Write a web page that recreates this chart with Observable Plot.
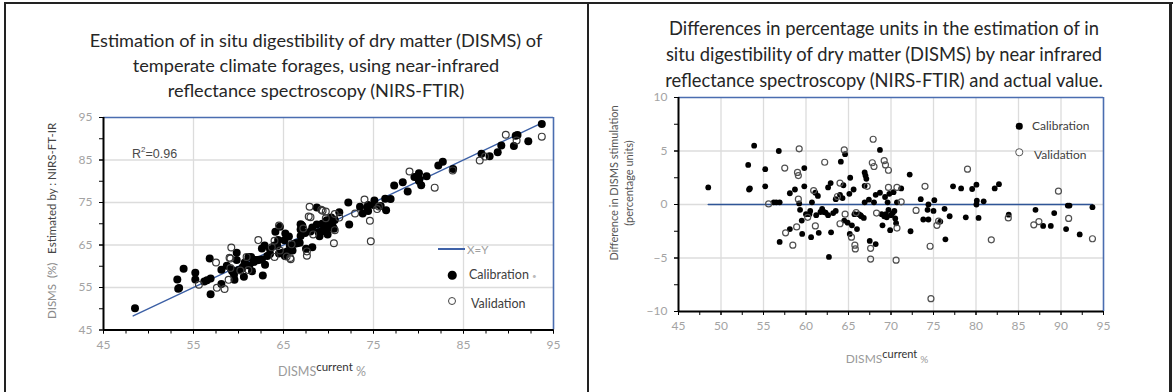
<!DOCTYPE html>
<html><head><meta charset="utf-8">
<script src="https://cdn.jsdelivr.net/npm/d3@7"></script>
<script src="https://cdn.jsdelivr.net/npm/@observablehq/plot@0.6"></script>
<style>
body{margin:0;background:#fff;}
#wrap{position:relative;width:1176px;height:392px;overflow:hidden;background:#fff;font-family:Lato,"Open Sans",sans-serif;}
.ttl{position:absolute;white-space:nowrap;color:#262626;transform:translate(-50%,-50%);font-size:17.5px;line-height:1;}
.bar{position:absolute;background:#222;}
.lab{position:absolute;white-space:nowrap;transform:translate(-50%,-50%);}
.leg{position:absolute;white-space:nowrap;color:#404040;font-size:12.5px;transform:translateY(-50%);}
.dot{position:absolute;border-radius:50%;transform:translate(-50%,-50%);box-sizing:border-box;}
.plot{position:absolute;top:0;}
</style></head>
<body>
<div id="wrap">
  <div class="bar" style="left:4px;top:2px;width:1169px;height:2px"></div>
  <div class="bar" style="left:4px;top:2px;width:2px;height:390px"></div>
  <div class="bar" style="left:587px;top:2px;width:2px;height:390px"></div>
  <div class="bar" style="left:1169px;top:2px;width:3px;height:390px"></div>

  <div id="leftPlot" class="plot" style="left:0"></div>
  <div id="rightPlot" class="plot" style="left:588px"></div>

  <div class="ttl lt" data-w="453" style="left:316px;top:40px">Estimation of in situ digestibility of dry matter (DISMS) of</div>
  <div class="ttl lt" style="left:316px;top:65px">temperate climate forages, using near-infrared</div>
  <div class="ttl lt" style="left:316px;top:90px">reflectance spectroscopy (NIRS-FTIR)</div>

  <div class="ttl rt" data-w="430" style="left:884px;top:28px">Differences in percentage units in the estimation of in</div>
  <div class="ttl rt" style="left:884px;top:54px">situ digestibility of dry matter (DISMS) by near infrared</div>
  <div class="ttl rt" style="left:884px;top:80px">reflectance spectroscopy (NIRS-FTIR) and actual value.</div>

  <div class="lab" style="left:51px;top:221px;transform:translate(-50%,-50%) rotate(-90deg);font-size:11.5px;color:#8a8a8a">DISMS&nbsp; (%)&nbsp;&nbsp; <span style="color:#444">Estimated by : NIRS-FT-IR</span></div>
  <div class="lab" style="left:322px;top:371px;font-size:12.5px;color:#9a9a9a">DISMS<span style="color:#333;font-size:11.5px;position:relative;top:-5px">current</span> %</div>
  <div class="lab" style="left:132px;top:153px;transform:translateY(-50%);font-family:'Liberation Sans',Arial,sans-serif;font-size:12.5px;color:#4a4a4a">R<sup style="font-size:8px">2</sup>=0.96</div>

  <div class="lab" style="left:621px;top:183px;transform:translate(-50%,-50%) rotate(-90deg);font-size:11px;color:#555;text-align:center;line-height:15px">Difference in DISMS stimulation<br>(percentage units)</div>
  <div class="lab" style="left:887px;top:358px;font-size:12px;color:#9a9a9a">DISMS<span style="color:#333;font-size:11px;position:relative;top:-5px">current</span> <span style="font-size:10px">%</span></div>

  <!-- left legend -->
  <div style="position:absolute;left:438px;top:248px;width:27px;height:2px;background:#3f62a8"></div>
  <div class="leg" style="left:467px;top:249px;color:#a0a0a0;font-size:11.5px">X=Y</div>
  <div class="dot" style="left:452px;top:275px;width:8.5px;height:8.5px;background:#000"></div>
  <div class="leg" style="left:469px;top:274px">Calibration <span style="color:#bbb;font-size:8px">•</span></div>
  <div class="dot" style="left:452px;top:301px;width:8px;height:8px;border:1.4px solid #444;background:#fff"></div>
  <div class="leg" style="left:471px;top:303px">Validation</div>

  <!-- right legend -->
  <div class="dot" style="left:1019px;top:126px;width:6.5px;height:6.5px;background:#000"></div>
  <div class="leg" style="left:1032px;top:125px;font-size:12px">Calibration</div>
  <div class="dot" style="left:1019px;top:152px;width:7.5px;height:7.5px;border:1.3px solid #555;background:#fff"></div>
  <div class="leg" style="left:1034px;top:154px;font-size:12px">Validation</div>
</div>
<script>
// ---- data: actual DISMS (%) and difference (estimated - actual, percentage units)
const calActual = [48.5,53.2,53.3,53.4,53.9,55.2,55.2,56.2,56.5,56.9,56.8,56.9,58.1,58.1,58.7,59.2,59.3,59.5,59.55,59.8,
  59.8,60.0,60.4,60.6,60.7,61.1,61.4,61.5,61.7,61.9,62.3,62.6,62.6,62.9,62.95,62.7,63.5,63.5,64.1,64.6,
  64.0,64.4,64.5,64.9,65.2,65.1,65.6,65.4,65.15,66.0,66.2,66.5,66.8,66.9,67.0,67.1,66.9,66.9,67.5,68.2,
  67.4,68.2,68.7,68.7,68.9,69.0,69.3,69.4,69.6,69.7,69.5,69.8,69.9,70.0,70.3,70.4,70.5,70.6,70.7,71.2,
  72.2,72.3,73.5,73.8,74.3,74.4,74.4,75.0,75.1,75.8,76.3,76.4,76.9,77.3,78.25,78.8,79.55,80.05,80.05,80.1,
  80.3,80.9,82.2,82.7,83.85,87.0,87.9,88.8,89.2,90.6,90.8,91.0,92.2,93.7,
  60.5,61.2,62.1,63.2,65.7,66.4,69.2,70.2,68.0,64.3];
const calDiff = [1.6,3.7,1.4,1.5,5.5,3.3,1.7,0.2,0.2,0.2,5.0,-3.5,-2.3,1.05,1.4,0.1,-0.5,-1.5,-2.75,3.4,
  1.7,-0.9,-0.9,-3.05,0.2,1.1,0.8,-2.65,-0.7,-0.4,-0.75,-1.0,1.6,2.0,-2.6,-4.9,-0.6,0.5,4.0,4.7,
  0.9,1.8,-1.5,-1.7,2.5,1.0,1.4,-1.95,-2.75,-2.3,-0.9,-1.1,-1.25,3.0,2.7,2.4,1.75,0.2,-3.4,-3.7,
  0.45,0.9,5.1,1.1,-0.9,-1.95,0.7,-0.9,0.2,-0.5,-1.2,1.0,-2.4,-1.0,1.15,-0.6,-1.3,-1.75,0.2,1.5,
  2.8,-2.5,0.5,-1.4,-0.5,0.0,-1.4,-0.6,0.4,-1.6,-0.4,-3.25,-1.1,1.7,1.5,-1.2,1.45,1.85,0.0,0.35,
  -1.25,0.3,1.5,1.9,-0.95,-0.5,-2.0,-2.0,-0.8,-2.3,-0.1,-0.1,-2.8,-0.25,
  -0.6,-1.0,-0.7,-0.8,-0.9,-1.0,-1.1,-0.8,0.2,0.6];
const valActual = [55.6,57.5,57.6,58.45,58.9,59.1,59.0,59.1,59.2,60.2,60.9,61.1,62.2,63.7,64.0,64.0,64.5,64.6,65.35,65.75,
  65.8,65.9,67.2,67.6,67.6,67.8,68.0,67.9,68.3,69.2,69.35,69.7,69.7,70.7,70.7,70.6,71.2,72.95,74.0,74.6,
  74.7,75.4,75.6,79.0,81.8,83.8,86.8,87.4,89.7,90.9,93.7];
const valDiff = [0.05,3.4,-2.65,-3.8,-2.1,0.5,3.0,2.7,5.2,-1.2,1.3,-2.0,3.95,0.75,2.0,-1.8,5.1,-0.9,-3.05,-3.8,
  -4.15,-0.75,1.7,-4.1,-5.1,3.9,3.55,6.1,-0.8,4.1,3.7,3.2,1.6,1.6,-2.2,-5.2,0.25,-0.55,1.7,-3.9,
  -8.8,-1.95,-1.55,3.3,-3.3,-1.25,-1.9,-1.6,1.25,-1.3,-3.2];
// identity (X=Y) line and zero-difference line extents
const xyLineX = [48.3, 93.5];
const zeroLineX = [48.5, 93.7];
// axes
const leftDomain = [45, 95];
const leftLabelTicks = [45, 55, 65, 75, 85, 95];
const leftGrid = [55, 65, 75, 85];
const leftMinorX = [45,47.5,50,52.5,55,57.5,60,62.5,65,67.5,70,72.5,75,77.5,80,82.5,85,87.5,90,92.5,95];
const leftMinorY = [45,50,55,60,65,70,75,80,85,90,95];
const rightXDomain = [45, 95];
const rightYDomain = [-10, 10];
const rightXTicks = [45,50,55,60,65,70,75,80,85,90,95];
const rightXGrid = [50,55,60,65,70,75,80,85,90];
const rightXMinor = [45,47.5,50,52.5,55,57.5,60,62.5,65,67.5,70,72.5,75,77.5,80,82.5,85,87.5,90,92.5,95];
const rightYTicks = [-10,-5,0,5,10];
const rightYGrid = [-5,0,5];
const rightYMinor = [-10,-7.5,-5,-2.5,0,2.5,5,7.5,10];

const calibration = calActual.map((a, i) => ({actual: a, diff: calDiff[i], est: a + calDiff[i]}));
const validation = valActual.map((a, i) => ({actual: a, diff: valDiff[i], est: a + valDiff[i]}));
const xyLine = xyLineX.map(v => ({x: v, y: v}));
const zeroLine = zeroLineX.map(v => ({x: v, y: 0}));

const blue = "#4a6db0", lineBlue = "#3b5fa5", grid = "#dcdcdc", tickText = "#a3a3a3";
const fontStyle = {fontFamily: "Lato, 'Open Sans', sans-serif", fontSize: "12px", background: "transparent", overflow: "visible"};

const left = Plot.plot({
  width: 588, height: 392,
  marginLeft: 103, marginRight: 35, marginTop: 117, marginBottom: 62.5,
  x: {domain: leftDomain}, y: {domain: leftDomain},
  style: fontStyle,
  marks: [
    Plot.gridX(leftGrid, {stroke: grid, strokeOpacity: 1, strokeWidth: 1.3}),
    Plot.gridY(leftGrid, {stroke: grid, strokeOpacity: 1, strokeWidth: 1.3}),
    Plot.line(xyLine, {x: "x", y: "y", stroke: lineBlue, strokeWidth: 1.4}),
    Plot.dot(calibration, {x: "actual", y: "est", r: 4, fill: "#000"}),
    Plot.dot(validation, {x: "actual", y: "est", r: 3.4, fill: "none", stroke: "#3a3a3a", strokeWidth: 1.2}),
    Plot.ruleY([leftDomain[1]], {stroke: blue, strokeWidth: 1.6}),
    Plot.ruleX([leftDomain[1]], {stroke: blue, strokeWidth: 1.6}),
    Plot.axisX(leftMinorX, {tickSize: 4, stroke: "#000", tickFormat: () => "", label: null}),
    Plot.axisY(leftMinorY, {tickSize: 4, stroke: "#000", tickFormat: () => "", label: null}),
    Plot.axisX(leftLabelTicks, {tickSize: 4, tickPadding: 6, stroke: "#000", fill: tickText, label: null}),
    Plot.axisY(leftLabelTicks, {tickSize: 4, tickPadding: 7, stroke: "#000", fill: tickText, label: null}),
    Plot.ruleX([leftDomain[0]], {stroke: "#000", strokeWidth: 2}),
    Plot.ruleY([leftDomain[0]], {stroke: "#000", strokeWidth: 2})
  ]
});
document.getElementById("leftPlot").append(left);

const right = Plot.plot({
  width: 588, height: 392,
  marginLeft: 90, marginRight: 73, marginTop: 97, marginBottom: 81,
  x: {domain: rightXDomain}, y: {domain: rightYDomain},
  style: fontStyle,
  marks: [
    Plot.gridX(rightXGrid, {stroke: grid, strokeOpacity: 1, strokeWidth: 1.3}),
    Plot.gridY(rightYGrid, {stroke: grid, strokeOpacity: 1, strokeWidth: 1.3}),
    Plot.line(zeroLine, {x: "x", y: "y", stroke: "#2f5597", strokeWidth: 1.5}),
    Plot.dot(calibration, {x: "actual", y: "diff", r: 2.9, fill: "#000"}),
    Plot.dot(validation, {x: "actual", y: "diff", r: 3, fill: "none", stroke: "#505050", strokeWidth: 1.2}),
    Plot.ruleY([rightYDomain[1]], {stroke: blue, strokeWidth: 1.6}),
    Plot.ruleX([rightXDomain[1]], {stroke: blue, strokeWidth: 1.6}),
    Plot.axisX(rightXMinor, {tickSize: 4, stroke: "#000", tickFormat: () => "", label: null}),
    Plot.axisY(rightYMinor, {tickSize: 4, stroke: "#000", tickFormat: () => "", label: null}),
    Plot.axisX(rightXTicks, {tickSize: 4, tickPadding: 6, stroke: "#000", fill: tickText, label: null}),
    Plot.axisY(rightYTicks, {tickSize: 4, tickPadding: 7, stroke: "#000", fill: tickText, label: null}),
    Plot.ruleX([rightXDomain[0]], {stroke: "#000", strokeWidth: 2}),
    Plot.ruleY([rightYDomain[0]], {stroke: "#000", strokeWidth: 2})
  ]
});
document.getElementById("rightPlot").append(right);

// fit title font size to the reference line width
function fit(cls) {
  const els = [...document.querySelectorAll("." + cls)];
  const target = +els[0].dataset.w;
  const w = els[0].getBoundingClientRect().width;
  const fs = parseFloat(getComputedStyle(els[0]).fontSize) * target / w;
  els.forEach(e => e.style.fontSize = fs + "px");
}
fit("lt"); fit("rt");
</script>
</body></html>
